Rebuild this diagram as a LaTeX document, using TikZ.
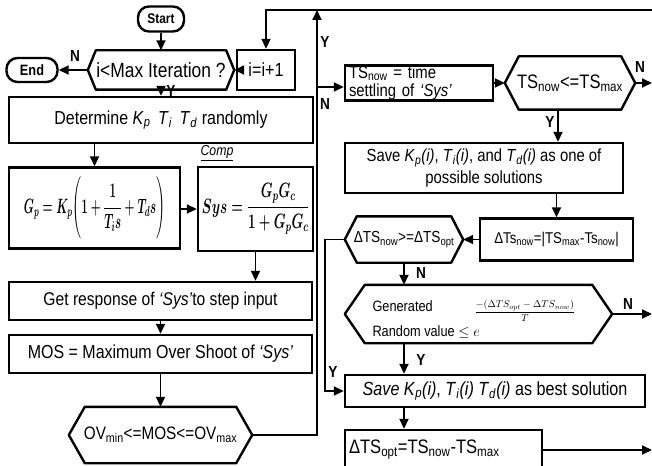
\documentclass[tikz,border=0pt]{standalone}
\usepackage{amsmath}
\usepackage{graphicx}
\usepackage{fontspec}
\setmainfont{Liberation Sans}[FakeStretch=0.85]
\usetikzlibrary{arrows.meta,calc,positioning}
\newcommand\fsize[2]{\fontsize{#1}{#2}\selectfont}
\newcommand\vsub[2]{\textit{#1}\textsubscript{\textit{#2}}}
\newcommand\gpform{\scalebox{0.55}[1]{\boldmath$\displaystyle G_p = K_p\Biggl(1+\frac{1}{T_i s}+T_d s\Biggr)$}}
\newcommand\sysform{\scalebox{0.64}[1]{\boldmath$\displaystyle Sys=\frac{G_pG_c}{1+G_pG_c}$}}
\tikzset{
  box/.style  = {draw, line width=2.4pt, inner sep=3pt, align=center, font=\fsize{18.8}{22}},
  term/.style = {draw, line width=2.4pt, rounded corners=11pt, inner sep=2pt,
                 font=\bfseries\fsize{14}{14}},
  dec/.style  = {inner sep=0pt, align=center, font=\fsize{18}{18}},
  eqbox/.style = {draw, line width=2.4pt, inner sep=1pt, font=\fsize{22}{22}},
  arr/.style  = {line width=1.8pt, -{Triangle[length=10pt,width=9pt]}},
  lab/.style  = {font=\bfseries\fsize{16}{16}},
}
\begin{document}
\begin{tikzpicture}[x=1pt,y=-1pt]
  \useasboundingbox (0,0) rectangle (652,465);
  \node[term, minimum width=46pt, minimum height=25pt] (start) at (161,19) {Start};
  \node[dec, minimum width=146pt, minimum height=39pt, font=\fsize{20.5}{20}] (maxit) at (161,70) {i<Max Iteration ?};
  \node[term, minimum width=51pt, minimum height=24pt, font=\bfseries\fsize{15}{15}] (endt) at (32,70) {End};
  \node[box, minimum width=58pt, minimum height=40pt, font=\fsize{19}{19}] (inc) at (266,70) {i=i+1};
  \node[box, minimum width=304pt, minimum height=46pt] (det) at (161,120)
       {Determine \vsub{K}{p}\, \vsub{T}{i}\, \vsub{T}{d} randomly};
  \node[font=\itshape\fsize{14.5}{14}] (comp) at (217,153) {\underline{Comp}};
  \node[eqbox, minimum width=171pt, minimum height=81pt] (gp) at (94.5,208) {\gpform};
  \node[eqbox, minimum width=115pt, minimum height=84pt, font=\fsize{20}{20}] (sys) at (255.5,209) {\sysform};
  \node[box, minimum width=303pt, minimum height=38pt, font=\fsize{18.4}{20}] (resp) at (160.5,301)
       {Get response of \textit{`Sys'}to step input};
  \node[box, minimum width=303pt, minimum height=38pt] (mos) at (160.5,354) {MOS = Maximum Over Shoot of \textit{`Sys'}};
  \node[dec, minimum width=183pt, minimum height=56pt] (ov) at (160.5,435) {OV\textsubscript{min}<=MOS<=OV\textsubscript{max}};

  \node[box, minimum height=35pt, text width=140pt, inner xsep=4pt, inner ysep=0pt, align=left,
        font=\fsize{17.5}{18.5}] (ts) at (419,83) {TS\textsubscript{now} = time\\settling of \textit{`Sys'}};
  \node[dec, minimum width=130pt, minimum height=53pt, font=\fsize{19.5}{19}] (tsd) at (570,83)
       {TS\textsubscript{now}<=TS\textsubscript{max}};
  \node[box, minimum width=278pt, minimum height=50pt, font=\fsize{17.5}{22}] (save) at (484,168)
       {Save \vsub{K}{p}\textit{(i)}, \vsub{T}{i}\textit{(i)}, and \vsub{T}{d}\textit{(i)} as one of\\possible solutions};
  \node[box, minimum width=153pt, minimum height=42pt, font=\fsize{15.6}{16}] (dts) at (556.5,239.5)
       {ΔTs\textsubscript{now}=|TS\textsubscript{max}-Ts\textsubscript{now}|};
  \node[dec, minimum width=118pt, minimum height=46pt, font=\fsize{16}{16}] (dtsd) at (404,239.5)
       {ΔTS\textsubscript{now}>=ΔTS\textsubscript{opt}};
  \node[dec, minimum width=267pt, minimum height=58pt] (rnd) at (478.5,314) {};
  \node[font=\fsize{15}{15}, anchor=west] (gen) at (369,306) {Generated};
  \node[font=\fsize{15}{15}, anchor=west] (rval) at (369,332) {Random value $\le e$};
  \node[font=\fsize{10}{10}] (expo) at (525,311) {$\displaystyle\frac{-(\Delta TS_{opt}-\Delta TS_{now})}{T}$};
  \node[box, minimum width=300pt, minimum height=32pt, font=\fsize{19}{19}] (best) at (495,391)
       {\textit{Save} \vsub{K}{p}\textit{(i)}, \vsub{T}{i}\textit{(i)} \vsub{T}{d}\textit{(i)} as best solution};
  \node[box, minimum height=40pt, text width=189pt, inner xsep=4pt, align=left, font=\fsize{19.5}{19}] (opt) at (443.5,450)
       {ΔTS\textsubscript{opt}=TS\textsubscript{now}-TS\textsubscript{max}};

  \foreach \n/\s in {maxit/8, ov/16, tsd/14, dtsd/12, rnd/20}
    \draw[line width=2.4pt, line join=round] (\n.west) -- ([xshift=\s]\n.north west) -- ([xshift=-\s]\n.north east)
      -- (\n.east) -- ([xshift=-\s]\n.south east) -- ([xshift=\s]\n.south west) -- cycle;

  \coordinate (top) at (652,10);
  \coordinate (up) at (317,10);
  \coordinate (ntap) at (317,87);

  \draw[arr] (start) -- (maxit);
  \draw[arr] (maxit) -- (endt);
  \draw[arr] (inc) -- (maxit);
  \draw[arr] (maxit) -- (det);
  \draw[arr] (top) -| (inc);
  \draw[arr] (gp.north |- det.south) -- (gp.north);
  \draw[arr] (gp.east |- sys) -- (sys.west);
  \draw[arr] (sys.south) -- (sys.south |- resp.north);
  \draw[arr] (resp) -- (mos);
  \draw[arr] (mos) -- (ov);
  \draw[arr] (ov.east) -| (up);
  \draw[arr] (ntap) -- (ntap -| ts.west);
  \draw[arr] (ts) -- (tsd);
  \draw[arr] (tsd.east) -- (tsd.east -| top);
  \draw[arr] ([xshift=-12pt]tsd.south) -- ([xshift=-12pt]tsd.south |- save.north);
  \draw[arr] (dts.north |- save.south) -- (dts.north);
  \draw[arr] (dts) -- (dtsd);
  \draw[arr] (dtsd.west) -- ++(-20,0) |- (best.west);
  \draw[arr] (dtsd.south) -- (dtsd.south |- rnd.north);
  \draw[arr] (dtsd.south |- rnd.south) -- (dtsd.south |- best.north);
  \draw[arr] (dtsd.south |- best.south) -- (dtsd.south |- opt.north);
  \draw[arr] (rnd.east) -- (rnd.east -| top);
  \draw[arr] (opt.east) -- (opt.east -| top);

  \node[lab] (nend) at (75,56) {N};
  \node[lab] (ymax) at (171,91) {Y};
  \node[lab] (yup) at (325,42) {Y};
  \node[lab] (nts) at (325,104) {N};
  \node[lab] (ntsd) at (640,67) {N};
  \node[lab] (ysave) at (550,122) {Y};
  \node[lab] (ndts) at (421,273) {N};
  \node[lab] (ydts) at (333,372) {Y};
  \node[lab] (nrnd) at (628,304) {N};
  \node[lab] (yrnd) at (421,360) {Y};
\end{tikzpicture}
\end{document}
